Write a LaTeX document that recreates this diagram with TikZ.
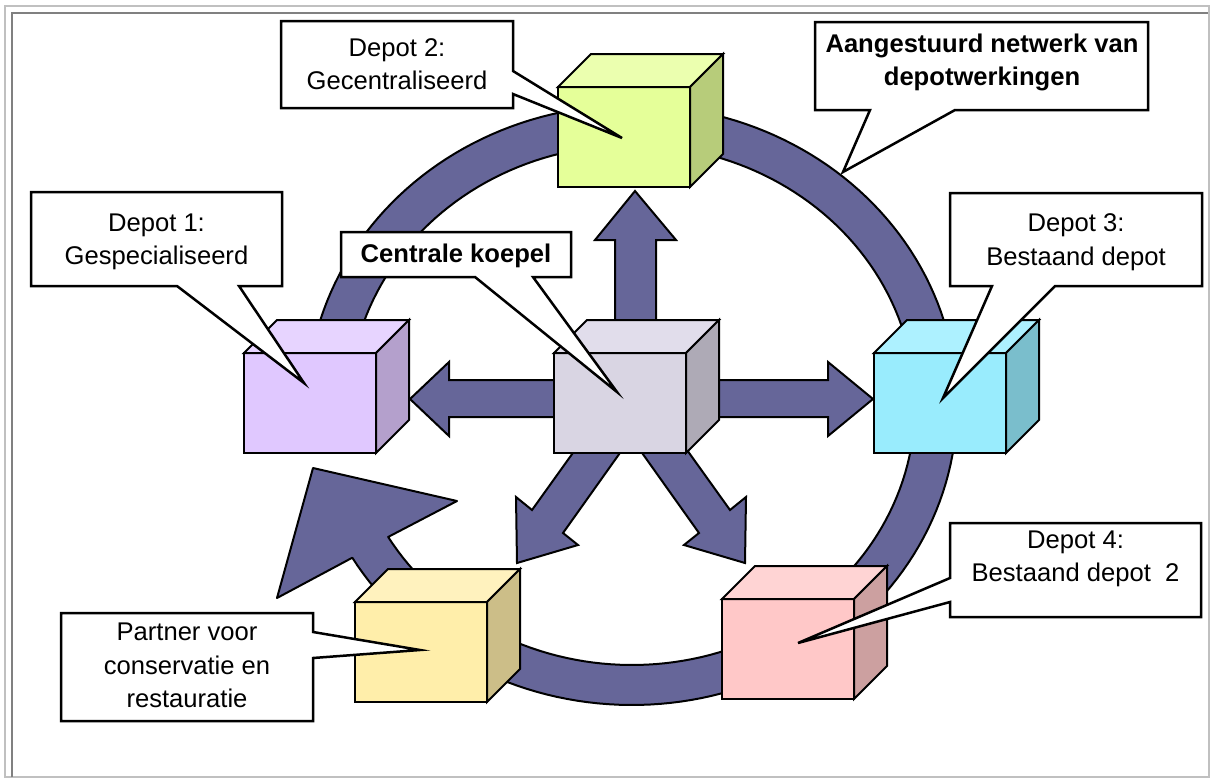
\documentclass[tikz,border=0pt]{standalone}
\usepackage{fontspec}
\setmainfont{Liberation Sans}
\definecolor{ringc}{RGB}{102,102,153}
\definecolor{gfront}{RGB}{229,255,153}
\definecolor{gtop}{RGB}{235,255,175}
\definecolor{gside}{RGB}{183,204,122}
\definecolor{pfront}{RGB}{224,200,255}
\definecolor{ptop}{RGB}{231,212,255}
\definecolor{pside}{RGB}{180,160,204}
\definecolor{cfront}{RGB}{217,213,227}
\definecolor{ctop}{RGB}{225,221,235}
\definecolor{cside}{RGB}{174,170,182}
\definecolor{bfront}{RGB}{153,236,253}
\definecolor{btop}{RGB}{173,241,255}
\definecolor{bside}{RGB}{122,190,204}
\definecolor{rfront}{RGB}{255,200,200}
\definecolor{rtop}{RGB}{255,212,212}
\definecolor{rside}{RGB}{204,160,160}
\definecolor{yfront}{RGB}{255,238,170}
\definecolor{ytop}{RGB}{255,242,190}
\definecolor{yside}{RGB}{204,190,136}
\definecolor{frlight}{RGB}{192,192,192}
\definecolor{frdark}{RGB}{128,128,128}
\tikzset{
  ringstyle/.style={fill=ringc, draw=black, line width=2pt, line join=round},
  blockarrow/.style={fill=ringc, draw=black, line width=2pt, line join=miter},
  callout/.style={fill=white, draw=black, line width=2.5pt, line join=miter},
  lbl/.style={font=\fontsize{25.6}{33.5}\selectfont, align=center, inner sep=0pt},
  lblb/.style={font=\fontsize{25.6}{33.5}\selectfont\bfseries, align=center, inner sep=0pt},
  facestyle/.style={draw=black, line width=2pt, line join=miter},
  pics/cube/.style n args={3}{code={
    \filldraw[facestyle, fill=#1] (0,0) rectangle (132,100);
    \filldraw[facestyle, fill=#2] (0,0) -- (33,-33) -- (165,-33) -- (132,0) -- cycle;
    \filldraw[facestyle, fill=#3] (132,0) -- (165,-33) -- (165,67) -- (132,100) -- cycle;
  }}
}
\begin{document}
\begin{tikzpicture}[x=1pt,y=-1pt]
\useasboundingbox (0,0) rectangle (1212,779);
\fill[white] (0,0) rectangle (1212,779);
% frame
\draw[frlight, line width=2pt] (5,6) rectangle (1209,777);
\draw[frdark, line width=2pt] (12,777) -- (12,13) -- (1208,13);
% ring with arrow head
\filldraw[ringstyle] plot[domain=-180:149.4, samples=180] ({632+325*cos(\x)},{405+300*sin(\x)})
  -- (277,598) -- (313,468) -- (457,501)
  -- plot[domain=149.5:-180, samples=180] ({632+283*cos(\x)},{405+260*sin(\x)}) -- cycle;
% central block arrows
\filldraw[blockarrow] (615,330) -- (615,240) -- (595,240) -- (635,191) -- (676,240) -- (656,240) -- (656,330) -- cycle;
\filldraw[blockarrow] (560,380) -- (449,380) -- (449,362) -- (410,399) -- (449,436) -- (449,417) -- (560,417) -- cycle;
\filldraw[blockarrow] (680,380) -- (828,380) -- (828,362) -- (873,399) -- (828,436) -- (828,417) -- (680,417) -- cycle;
\filldraw[blockarrow] (580,443) -- (532,510) -- (516,497) -- (517,563) -- (578,545) -- (563,533) -- (627,443) -- cycle;
\filldraw[blockarrow] (682,443) -- (730,510) -- (746,497) -- (745,563) -- (684,545) -- (699,533) -- (635,443) -- cycle;
% cubes
\pic at (558,87) {cube={gfront}{gtop}{gside}};
\pic at (244,353) {cube={pfront}{ptop}{pside}};
\pic at (554,353) {cube={cfront}{ctop}{cside}};
\pic at (874,353) {cube={bfront}{btop}{bside}};
\pic at (722,599) {cube={rfront}{rtop}{rside}};
\pic at (355,602) {cube={yfront}{ytop}{yside}};
% callouts
\filldraw[callout] (281,21) -- (513,21) -- (513,71) -- (622,138) -- (513,94) -- (513,108) -- (281,108) -- cycle;
\node[lbl] (t2) at (397,64) {Depot 2:\\Gecentraliseerd};
\filldraw[callout] (815,22) -- (1148,22) -- (1148,110) -- (955,110) -- (843,172) -- (870,110) -- (815,110) -- cycle;
\node[lblb] (tnet) at (982,62.4) {Aangestuurd netwerk van\\depotwerkingen};
\filldraw[callout] (31,192) -- (282,192) -- (282,286) -- (239,286) -- (304,383) -- (177,286) -- (31,286) -- cycle;
\node[lbl] (t1) at (156.5,241.6) {Depot 1:\\Gespecialiseerd};
\filldraw[callout] (341,232) -- (571,232) -- (571,277) -- (533,277) -- (617,392) -- (475,277) -- (341,277) -- cycle;
\node[lblb] (tcentral) at (456,255.7) {Centrale koepel};
\filldraw[callout] (950,193) -- (1202,193) -- (1202,286) -- (1055,286) -- (943,398) -- (992,286) -- (950,286) -- cycle;
\node[lbl] (t3) at (1076,242) {Depot 3:\\Bestaand depot};
\filldraw[callout] (950,523) -- (1201,523) -- (1201,617) -- (950,617) -- (950,602) -- (798,643) -- (950,578) -- cycle;
\node[lbl] (t4) at (1075.5,558.9) {Depot 4:\\Bestaand depot\ \ 2};
\filldraw[callout] (61,613) -- (313,613) -- (313,632) -- (420,650) -- (313,658) -- (313,721) -- (61,721) -- cycle;
\node[lbl] (tpartner) at (187,665.7) {Partner voor\\conservatie en\\restauratie};
\end{tikzpicture}
\end{document}
